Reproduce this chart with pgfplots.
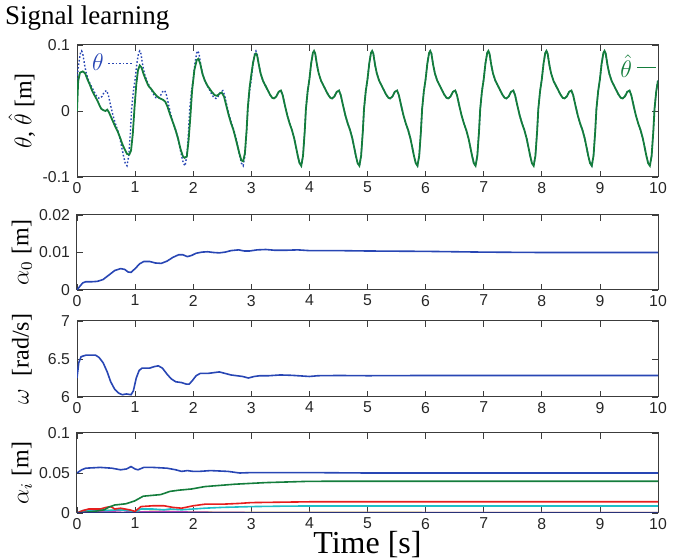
\documentclass[border=0pt]{standalone}
\usepackage{fontspec}
\setmainfont{Liberation Serif}
\newfontfamily\tickfont{Liberation Sans}
\usepackage{pgfplots}
\pgfplotsset{compat=1.18}
\definecolor{mblue}{RGB}{40,70,180}
\definecolor{mgreen}{RGB}{20,125,60}
\definecolor{mred}{RGB}{230,30,30}
\definecolor{mcyan}{RGB}{30,190,200}
\definecolor{mmag}{RGB}{180,60,180}
\definecolor{myel}{RGB}{190,190,60}
\definecolor{mnavy}{RGB}{40,50,120}
\definecolor{frame}{RGB}{60,60,60}
\pgfplotsset{
 panel/.style={
  width=290.5pt, scale only axis, xmin=0, xmax=10,
  xtick={0,1,2,3,4,5,6,7,8,9,10}, xticklabels={0,1,2,3,4,5,6,7,8,9,10},
  scaled y ticks=false, scaled x ticks=false,
  tick align=inside, major tick length=3pt,
  tick style={frame, line width=0.4pt},
  axis line style={frame, line width=0.5pt},
  tick label style={font=\tickfont\fontsize{7.9}{9}\selectfont, text=black!85},
  xticklabel style={inner sep=1pt, yshift=-1.3pt},
  ylabel style={at={(axis description cs:-0.095,0.5)}, anchor=center, font=\fontsize{12}{13}\selectfont},
  every axis plot/.append style={line width=0.8pt},
  anchor=north west,
 }
}
\begin{document}
\begin{tikzpicture}
\path[use as bounding box] (0,0) rectangle (343pt,-280pt);
% ---------- panel 1
\begin{axis}[panel, at={(38.5pt,-22.5pt)}, height=66pt,
  ymin=-0.1, ymax=0.1, ytick={-0.1,0,0.1}, yticklabels={-0.1,0,0.1},
  ylabel={$\theta$, $\hat{\theta}$ [m]},
  title={Signal learning},
  title style={at={(axis description cs:-0.136,1)}, anchor=base west, yshift=4pt, font=\fontsize{13.5}{15}\selectfont},
  legend plot pos=right,
  legend image code/.code={\draw[#1] (0cm,0cm) -- (0.42cm,0cm);},
  legend style={at={(axis description cs:0.015,0.985)}, anchor=north west, draw=none, fill=none, font=\fontsize{12}{13}\selectfont, text=mblue, inner sep=1pt},
]
\addplot[mblue, densely dotted, line width=0.7pt] coordinates {
(0.00,0.048)(0.03,0.072)(0.06,0.088)(0.08,0.091)(0.10,0.087)(0.13,0.070)(0.16,0.057)(0.20,0.046)(0.24,0.039)(0.28,0.032)(0.32,0.025)(0.36,0.020)(0.39,0.019)(0.43,0.022)(0.47,0.029)(0.51,0.031)(0.54,0.024)(0.58,0.008)(0.62,-0.007)(0.66,-0.019)(0.70,-0.029)(0.74,-0.042)(0.77,-0.055)(0.80,-0.068)(0.83,-0.079)(0.86,-0.083)(0.89,-0.068)(0.92,-0.030)(0.94,0.003)(0.97,0.030)
(1.00,0.048)(1.03,0.072)(1.06,0.088)(1.08,0.091)(1.10,0.087)(1.13,0.070)(1.16,0.057)(1.20,0.046)(1.24,0.039)(1.28,0.032)(1.32,0.025)(1.36,0.020)(1.39,0.019)(1.43,0.022)(1.47,0.029)(1.51,0.031)(1.54,0.024)(1.58,0.008)(1.62,-0.007)(1.66,-0.019)(1.70,-0.029)(1.74,-0.042)(1.77,-0.055)(1.80,-0.068)(1.83,-0.079)(1.86,-0.083)(1.89,-0.068)(1.92,-0.030)(1.94,0.003)(1.97,0.030)
(2.00,0.048)(2.03,0.072)(2.06,0.088)(2.08,0.091)(2.10,0.087)(2.13,0.070)(2.16,0.057)(2.20,0.046)(2.24,0.039)(2.28,0.032)(2.32,0.025)(2.36,0.020)(2.39,0.019)(2.43,0.022)(2.47,0.029)(2.51,0.031)(2.54,0.024)(2.58,0.008)(2.62,-0.007)(2.66,-0.019)(2.70,-0.029)(2.74,-0.042)(2.77,-0.055)(2.80,-0.068)(2.83,-0.079)(2.86,-0.083)(2.89,-0.068)(2.92,-0.030)(2.94,0.003)(2.97,0.030)
(3.00,0.048)(3.03,0.072)(3.06,0.088)(3.08,0.091)(3.10,0.087)(3.13,0.070)(3.16,0.057)(3.20,0.046)(3.24,0.039)(3.28,0.032)(3.32,0.025)(3.36,0.020)(3.39,0.019)(3.43,0.022)(3.47,0.029)(3.51,0.031)(3.54,0.024)(3.58,0.008)(3.62,-0.007)(3.66,-0.019)(3.70,-0.029)(3.74,-0.042)(3.77,-0.055)(3.80,-0.068)(3.83,-0.079)(3.86,-0.083)(3.89,-0.068)(3.92,-0.030)(3.94,0.003)(3.97,0.030)
(4.00,0.048)(4.03,0.072)(4.06,0.088)(4.08,0.091)(4.10,0.087)(4.13,0.070)(4.16,0.057)(4.20,0.046)(4.24,0.039)(4.28,0.032)(4.32,0.025)(4.36,0.020)(4.39,0.019)(4.43,0.022)(4.47,0.029)(4.51,0.031)(4.54,0.024)(4.58,0.008)(4.62,-0.007)(4.66,-0.019)(4.70,-0.029)(4.74,-0.042)(4.77,-0.055)(4.80,-0.068)(4.83,-0.079)(4.86,-0.083)(4.89,-0.068)(4.92,-0.030)(4.94,0.003)(4.97,0.030)
(5.00,0.048)(5.03,0.072)(5.06,0.088)(5.08,0.091)(5.10,0.087)(5.13,0.070)(5.16,0.057)(5.20,0.046)(5.24,0.039)(5.28,0.032)(5.32,0.025)(5.36,0.020)(5.39,0.019)(5.43,0.022)(5.47,0.029)(5.51,0.031)(5.54,0.024)(5.58,0.008)(5.62,-0.007)(5.66,-0.019)(5.70,-0.029)(5.74,-0.042)(5.77,-0.055)(5.80,-0.068)(5.83,-0.079)(5.86,-0.083)(5.89,-0.068)(5.92,-0.030)(5.94,0.003)(5.97,0.030)
(6.00,0.048)(6.03,0.072)(6.06,0.088)(6.08,0.091)(6.10,0.087)(6.13,0.070)(6.16,0.057)(6.20,0.046)(6.24,0.039)(6.28,0.032)(6.32,0.025)(6.36,0.020)(6.39,0.019)(6.43,0.022)(6.47,0.029)(6.51,0.031)(6.54,0.024)(6.58,0.008)(6.62,-0.007)(6.66,-0.019)(6.70,-0.029)(6.74,-0.042)(6.77,-0.055)(6.80,-0.068)(6.83,-0.079)(6.86,-0.083)(6.89,-0.068)(6.92,-0.030)(6.94,0.003)(6.97,0.030)
(7.00,0.048)(7.03,0.072)(7.06,0.088)(7.08,0.091)(7.10,0.087)(7.13,0.070)(7.16,0.057)(7.20,0.046)(7.24,0.039)(7.28,0.032)(7.32,0.025)(7.36,0.020)(7.39,0.019)(7.43,0.022)(7.47,0.029)(7.51,0.031)(7.54,0.024)(7.58,0.008)(7.62,-0.007)(7.66,-0.019)(7.70,-0.029)(7.74,-0.042)(7.77,-0.055)(7.80,-0.068)(7.83,-0.079)(7.86,-0.083)(7.89,-0.068)(7.92,-0.030)(7.94,0.003)(7.97,0.030)
(8.00,0.048)(8.03,0.072)(8.06,0.088)(8.08,0.091)(8.10,0.087)(8.13,0.070)(8.16,0.057)(8.20,0.046)(8.24,0.039)(8.28,0.032)(8.32,0.025)(8.36,0.020)(8.39,0.019)(8.43,0.022)(8.47,0.029)(8.51,0.031)(8.54,0.024)(8.58,0.008)(8.62,-0.007)(8.66,-0.019)(8.70,-0.029)(8.74,-0.042)(8.77,-0.055)(8.80,-0.068)(8.83,-0.079)(8.86,-0.083)(8.89,-0.068)(8.92,-0.030)(8.94,0.003)(8.97,0.030)
(9.00,0.048)(9.03,0.072)(9.06,0.088)(9.08,0.091)(9.10,0.087)(9.13,0.070)(9.16,0.057)(9.20,0.046)(9.24,0.039)(9.28,0.032)(9.32,0.025)(9.36,0.020)(9.39,0.019)(9.43,0.022)(9.47,0.029)(9.51,0.031)(9.54,0.024)(9.58,0.008)(9.62,-0.007)(9.66,-0.019)(9.70,-0.029)(9.74,-0.042)(9.77,-0.055)(9.80,-0.068)(9.83,-0.079)(9.86,-0.083)(9.89,-0.068)(9.92,-0.030)(9.94,0.003)(9.97,0.030)
(10.00,0.048)};
\addlegendentry{$\theta$}
\addplot[mgreen, line width=0.9pt, forget plot] coordinates {
(0.00,0.000)(0.02,0.045)(0.05,0.058)(0.10,0.060)(0.14,0.057)(0.18,0.048)(0.22,0.040)(0.26,0.031)(0.30,0.024)(0.35,0.016)(0.39,0.008)(0.42,0.003)(0.46,0.001)(0.49,0.000)(0.52,0.002)(0.55,-0.002)(0.60,-0.012)(0.65,-0.022)(0.70,-0.031)(0.74,-0.040)(0.78,-0.050)(0.82,-0.058)(0.86,-0.065)(0.90,-0.066)(0.93,-0.060)(0.96,-0.035)(0.99,0.005)
(1.02,0.040)(1.05,0.062)(1.08,0.069)(1.11,0.066)(1.15,0.055)(1.19,0.046)(1.23,0.038)(1.28,0.033)(1.33,0.027)(1.38,0.022)(1.43,0.019)(1.48,0.017)(1.52,0.014)(1.56,0.006)(1.60,-0.005)(1.65,-0.017)(1.70,-0.030)(1.74,-0.042)(1.78,-0.057)(1.82,-0.068)(1.85,-0.071)(1.89,-0.069)(1.92,-0.045)(1.95,-0.010)(1.98,0.030)
(2.02,0.062)(2.06,0.077)(2.09,0.079)(2.12,0.072)(2.16,0.056)(2.20,0.046)(2.24,0.039)(2.28,0.034)(2.32,0.029)(2.37,0.024)(2.41,0.023)(2.45,0.026)(2.49,0.028)(2.53,0.022)(2.57,0.008)(2.61,-0.006)(2.65,-0.018)(2.69,-0.028)(2.72,-0.038)(2.76,-0.052)(2.80,-0.066)(2.83,-0.075)(2.86,-0.076)(2.89,-0.064)(2.92,-0.028)(2.94,0.005)(2.97,0.035)
(3.00,0.055)(3.03,0.073)(3.06,0.085)(3.08,0.087)(3.10,0.084)(3.13,0.070)(3.16,0.057)(3.20,0.046)(3.24,0.039)(3.28,0.032)(3.32,0.025)(3.36,0.020)(3.39,0.019)(3.43,0.022)(3.47,0.029)(3.51,0.031)(3.54,0.024)(3.58,0.008)(3.62,-0.007)(3.66,-0.019)(3.70,-0.029)(3.74,-0.042)(3.77,-0.055)(3.80,-0.068)(3.83,-0.079)(3.86,-0.083)(3.89,-0.068)(3.92,-0.030)(3.94,0.003)(3.97,0.030)
(4.00,0.048)(4.03,0.072)(4.06,0.088)(4.08,0.091)(4.10,0.087)(4.13,0.070)(4.16,0.057)(4.20,0.046)(4.24,0.039)(4.28,0.032)(4.32,0.025)(4.36,0.020)(4.39,0.019)(4.43,0.022)(4.47,0.029)(4.51,0.031)(4.54,0.024)(4.58,0.008)(4.62,-0.007)(4.66,-0.019)(4.70,-0.029)(4.74,-0.042)(4.77,-0.055)(4.80,-0.068)(4.83,-0.079)(4.86,-0.083)(4.89,-0.068)(4.92,-0.030)(4.94,0.003)(4.97,0.030)
(5.00,0.048)(5.03,0.072)(5.06,0.088)(5.08,0.091)(5.10,0.087)(5.13,0.070)(5.16,0.057)(5.20,0.046)(5.24,0.039)(5.28,0.032)(5.32,0.025)(5.36,0.020)(5.39,0.019)(5.43,0.022)(5.47,0.029)(5.51,0.031)(5.54,0.024)(5.58,0.008)(5.62,-0.007)(5.66,-0.019)(5.70,-0.029)(5.74,-0.042)(5.77,-0.055)(5.80,-0.068)(5.83,-0.079)(5.86,-0.083)(5.89,-0.068)(5.92,-0.030)(5.94,0.003)(5.97,0.030)
(6.00,0.048)(6.03,0.072)(6.06,0.088)(6.08,0.091)(6.10,0.087)(6.13,0.070)(6.16,0.057)(6.20,0.046)(6.24,0.039)(6.28,0.032)(6.32,0.025)(6.36,0.020)(6.39,0.019)(6.43,0.022)(6.47,0.029)(6.51,0.031)(6.54,0.024)(6.58,0.008)(6.62,-0.007)(6.66,-0.019)(6.70,-0.029)(6.74,-0.042)(6.77,-0.055)(6.80,-0.068)(6.83,-0.079)(6.86,-0.083)(6.89,-0.068)(6.92,-0.030)(6.94,0.003)(6.97,0.030)
(7.00,0.048)(7.03,0.072)(7.06,0.088)(7.08,0.091)(7.10,0.087)(7.13,0.070)(7.16,0.057)(7.20,0.046)(7.24,0.039)(7.28,0.032)(7.32,0.025)(7.36,0.020)(7.39,0.019)(7.43,0.022)(7.47,0.029)(7.51,0.031)(7.54,0.024)(7.58,0.008)(7.62,-0.007)(7.66,-0.019)(7.70,-0.029)(7.74,-0.042)(7.77,-0.055)(7.80,-0.068)(7.83,-0.079)(7.86,-0.083)(7.89,-0.068)(7.92,-0.030)(7.94,0.003)(7.97,0.030)
(8.00,0.048)(8.03,0.072)(8.06,0.088)(8.08,0.091)(8.10,0.087)(8.13,0.070)(8.16,0.057)(8.20,0.046)(8.24,0.039)(8.28,0.032)(8.32,0.025)(8.36,0.020)(8.39,0.019)(8.43,0.022)(8.47,0.029)(8.51,0.031)(8.54,0.024)(8.58,0.008)(8.62,-0.007)(8.66,-0.019)(8.70,-0.029)(8.74,-0.042)(8.77,-0.055)(8.80,-0.068)(8.83,-0.079)(8.86,-0.083)(8.89,-0.068)(8.92,-0.030)(8.94,0.003)(8.97,0.030)
(9.00,0.048)(9.03,0.072)(9.06,0.088)(9.08,0.091)(9.10,0.087)(9.13,0.070)(9.16,0.057)(9.20,0.046)(9.24,0.039)(9.28,0.032)(9.32,0.025)(9.36,0.020)(9.39,0.019)(9.43,0.022)(9.47,0.029)(9.51,0.031)(9.54,0.024)(9.58,0.008)(9.62,-0.007)(9.66,-0.019)(9.70,-0.029)(9.74,-0.042)(9.77,-0.055)(9.80,-0.068)(9.83,-0.079)(9.86,-0.083)(9.89,-0.068)(9.92,-0.030)(9.94,0.003)(9.97,0.030)
(10.00,0.046)};
\end{axis}
% overlay legend for theta-hat
\begin{axis}[at={(38.5pt,-22.5pt)}, anchor=north west, width=290.5pt, height=66pt, scale only axis,
  xmin=0, xmax=10, ymin=-0.1, ymax=0.1, hide axis,
  legend plot pos=right,
  legend image code/.code={\draw[#1] (0cm,0cm) -- (0.33cm,0cm);},
  legend style={at={(axis description cs:0.998,0.83)}, anchor=east, draw=none, fill=none, font=\fontsize{12}{13}\selectfont, text=mgreen, inner sep=0pt},
]
\addlegendimage{mgreen, line width=0.9pt}
\addlegendentry{$\hat{\theta}$}
\end{axis}
% ---------- panel 2
\begin{axis}[panel, at={(38.5pt,-107.5pt)}, height=37.5pt,
  ymin=0, ymax=0.02, ytick={0,0.01,0.02}, yticklabels={0,0.01,0.02},
  ylabel={$\alpha_0$\ [m]},
]
\addplot[mblue] coordinates {
(0,0)(0.05,0.0010)(0.10,0.0019)(0.15,0.0022)(0.25,0.0022)(0.35,0.0023)(0.45,0.0028)(0.55,0.0040)(0.65,0.0052)(0.75,0.0057)(0.82,0.0055)(0.88,0.0048)(0.93,0.0047)(1.00,0.0057)(1.08,0.0070)(1.15,0.0076)(1.25,0.0076)(1.35,0.0072)(1.45,0.0071)(1.55,0.0077)(1.65,0.0087)(1.75,0.0094)(1.82,0.0094)(1.90,0.0089)(1.97,0.0092)(2.05,0.0098)(2.15,0.0101)(2.25,0.0102)(2.35,0.0100)(2.45,0.0099)(2.55,0.0101)(2.65,0.0105)(2.78,0.0107)(2.88,0.0104)(2.97,0.0104)(3.10,0.0107)(3.25,0.0108)(3.40,0.0106)(3.60,0.0106)(3.80,0.0107)(4.00,0.0105)(4.50,0.0105)(5,0.0104)(6,0.0103)(7,0.0101)(8,0.0100)(9,0.0100)(10,0.0100)};
\end{axis}
% ---------- panel 3
\begin{axis}[panel, at={(38.5pt,-160.5pt)}, height=38pt,
  ymin=6, ymax=7, ytick={6,6.5,7}, yticklabels={6,6.5,7},
  ylabel={$\omega$\ \ [rad/s]},
]
\addplot[mblue] coordinates {
(0,6.25)(0.03,6.45)(0.07,6.53)(0.15,6.55)(0.25,6.55)(0.32,6.55)(0.38,6.52)(0.45,6.45)(0.52,6.33)(0.58,6.20)(0.65,6.10)(0.72,6.05)(0.78,6.03)(0.85,6.04)(0.93,6.03)(0.97,6.08)(1.02,6.25)(1.07,6.35)(1.12,6.38)(1.25,6.38)(1.33,6.40)(1.40,6.41)(1.47,6.38)(1.55,6.30)(1.62,6.24)(1.70,6.20)(1.80,6.19)(1.88,6.17)(1.93,6.17)(1.98,6.21)(2.05,6.28)(2.12,6.31)(2.25,6.31)(2.35,6.32)(2.45,6.33)(2.55,6.31)(2.65,6.29)(2.75,6.28)(2.85,6.27)(2.95,6.25)(3.05,6.27)(3.15,6.28)(3.30,6.28)(3.50,6.29)(3.70,6.285)(3.90,6.275)(4.00,6.27)(4.15,6.28)(4.50,6.283)(5,6.28)(6,6.283)(7,6.283)(8,6.283)(9,6.283)(10,6.283)};
\end{axis}
% ---------- panel 4
\begin{axis}[panel, at={(38.5pt,-216.5pt)}, height=40pt,
  ymin=0, ymax=0.1, ytick={0,0.05,0.1}, yticklabels={0,0.05,0.1},
  ylabel={$\alpha_i$\ [m]},
  xlabel={Time [s]},
  xlabel style={at={(axis description cs:0.5,0)}, anchor=base, yshift=-20.5pt, inner sep=0pt, font=\fontsize{16}{17}\selectfont},
]
\addplot[myel] coordinates {(0,0)(0.2,0.004)(0.5,0.003)(0.9,0.004)(1.0,0.001)(1.3,0.002)(2,0.001)(3,0.0006)(10,0.0005)};
\addplot[mmag] coordinates {(0,0)(0.2,0.003)(0.5,0.002)(0.8,0.003)(1.0,0.001)(1.5,0.002)(2,0.001)(3,0.0005)(10,0.0005)};
\addplot[mcyan] coordinates {(0,0)(0.1,0.003)(0.3,0.004)(0.5,0.003)(0.7,0.004)(0.9,0.003)(1.0,0.001)(1.1,0.005)(1.3,0.005)(1.5,0.004)(1.6,0.005)(1.8,0.004)(2.0,0.005)(2.2,0.006)(2.5,0.007)(3.0,0.008)(3.5,0.0085)(4,0.0088)(10,0.0088)};
\addplot[mred] coordinates {(0,0)(0.1,0.003)(0.2,0.005)(0.4,0.005)(0.5,0.007)(0.58,0.008)(0.65,0.005)(0.75,0.006)(0.9,0.004)(1.0,0.002)(1.1,0.008)(1.3,0.009)(1.5,0.009)(1.65,0.007)(1.8,0.006)(2.0,0.009)(2.2,0.011)(2.5,0.011)(2.8,0.012)(3.0,0.013)(3.5,0.0135)(4,0.014)(10,0.014)};
\addplot[mgreen] coordinates {(0,0)(0.3,0.002)(0.47,0.004)(0.54,0.007)(0.65,0.010)(0.84,0.0115)(0.99,0.015)(1.14,0.021)(1.44,0.023)(1.6,0.027)(1.75,0.0285)(1.97,0.030)(2.2,0.033)(2.72,0.036)(3.25,0.038)(4,0.0396)(5,0.0397)(10,0.0397)};
\addplot[mnavy] coordinates {(0,0.0003)(10,0.0003)};
\addplot[mblue] coordinates {(0,0.050)(0.08,0.054)(0.15,0.056)(0.4,0.057)(0.6,0.056)(0.75,0.054)(0.85,0.055)(0.93,0.058)(1.0,0.055)(1.05,0.054)(1.15,0.057)(1.3,0.057)(1.55,0.056)(1.7,0.054)(1.8,0.052)(1.9,0.053)(2.0,0.052)(2.1,0.052)(2.3,0.053)(2.6,0.052)(2.8,0.050)(3.0,0.0505)(3.5,0.0505)(4,0.0505)(5,0.050)(10,0.050)};
\end{axis}
\end{tikzpicture}
\end{document}
